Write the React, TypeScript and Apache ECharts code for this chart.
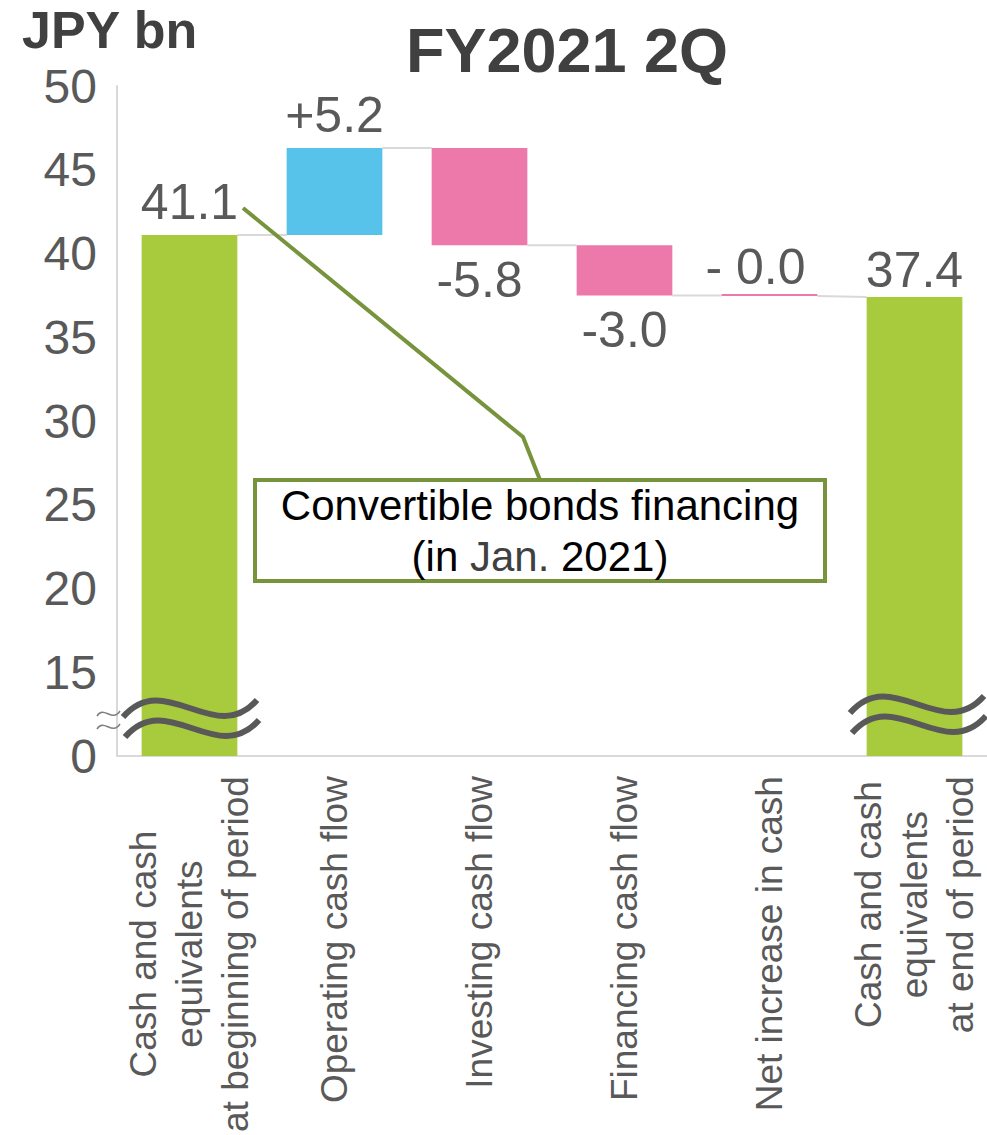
import React, { useEffect, useRef } from 'react';
import * as echarts from 'echarts';

const categories = [
  'Cash and cash\nequivalents\nat beginning of period',
  'Operating cash flow',
  'Investing cash flow',
  'Financing cash flow',
  'Net increase in cash',
  'Cash and cash\nequivalents\nat end of period',
];
const amounts = [41.1, 5.2, -5.8, -3.0, -0.04, 37.4];
const isTotal = [true, false, false, false, false, true];
const valueLabels = ['41.1', '+5.2', '-5.8', '-3.0', '- 0.0', '37.4'];
const labelBelow = [false, false, true, true, false, false];
const yMin = 10;
const yMax = 50;
const yStep = 5;
const yBreakLabel = '0';

const FONT = '"Liberation Sans", Arial, Helvetica, sans-serif';
const GREEN = '#a7cb3d';
const BLUE = '#58c3ea';
const PINK = '#ed79ab';
const OLIVE = '#77933c';
const GREY = '#595959';

function buildWaterfall() {
  const base: number[] = [];
  const height: number[] = [];
  const endLevel: number[] = [];
  const startLevel: number[] = [];
  let running = 0;
  amounts.forEach((a, i) => {
    if (isTotal[i]) {
      base.push(0);
      height.push(a);
      startLevel.push(a);
      endLevel.push(a);
      running = a;
    } else {
      const s = running;
      const e = running + a;
      base.push(Math.min(s, e));
      height.push(Math.abs(a));
      startLevel.push(s);
      endLevel.push(e);
      running = e;
    }
  });
  const connectors: number[][] = [];
  for (let i = 0; i < amounts.length - 1; i++) {
    connectors.push([i, endLevel[i], startLevel[i + 1]]);
  }
  return { base, height, connectors };
}

function wave(x0: number, y0: number) {
  return {
    type: 'bezierCurve',
    shape: {
      x1: x0, y1: y0,
      cpx1: x0 + 42, cpy1: y0 - 49,
      cpx2: x0 + 92, cpy2: y0 + 31,
      x2: x0 + 134, y2: y0 - 17,
    },
    style: { stroke: GREY, lineWidth: 6, fill: null },
    z: 100,
  };
}

function tilde(x0: number, y0: number) {
  return {
    type: 'bezierCurve',
    shape: {
      x1: x0, y1: y0,
      cpx1: x0 + 7, cpy1: y0 - 11,
      cpx2: x0 + 15, cpy2: y0 + 7,
      x2: x0 + 23, y2: y0 - 5,
    },
    style: { stroke: '#7f7f7f', lineWidth: 1.5, fill: null },
    z: 100,
  };
}

export default function App() {
  const ref = useRef<HTMLDivElement>(null);
  useEffect(() => {
    if (!ref.current) return;
    const chart = echarts.init(ref.current, undefined, { renderer: 'svg' });
    const { base, height, connectors } = buildWaterfall();

    const option: any = {
      animation: false,
      backgroundColor: '#ffffff',
      grid: { left: 117, width: 875, top: 86, bottom: 377, containLabel: false },
      xAxis: {
        type: 'category',
        data: categories,
        axisLine: { show: true, lineStyle: { color: '#d9d9d9', width: 2 } },
        axisTick: { show: false },
        axisLabel: {
          interval: 0,
          rotate: 90,
          margin: 20,
          formatter: (v: string) => v.split('\n').map((l) => `{c|${l}}`).join('\n'),
          rich: {
            c: { align: 'center', fontSize: 37, lineHeight: 46, color: GREY, fontFamily: FONT },
          },
        },
      },
      yAxis: {
        type: 'value',
        min: yMin,
        max: yMax,
        interval: yStep,
        axisLine: { show: true, lineStyle: { color: '#d9d9d9', width: 2 } },
        axisTick: { show: false },
        splitLine: { show: false },
        axisLabel: {
          fontSize: 48,
          color: GREY,
          fontFamily: FONT,
          margin: 20,
          formatter: (v: number) => (v === yMin ? yBreakLabel : String(v)),
        },
      },
      series: [
        {
          type: 'bar',
          stack: 'w',
          barWidth: '66%',
          silent: true,
          itemStyle: { color: 'rgba(0,0,0,0)' },
          data: base,
        },
        {
          type: 'bar',
          stack: 'w',
          barWidth: '66%',
          barMinHeight: 2,
          data: height.map((h, i) => ({
            value: h,
            itemStyle: { color: isTotal[i] ? GREEN : amounts[i] >= 0 ? BLUE : PINK },
            label: {
              position: labelBelow[i] ? 'bottom' : 'top',
              distance: labelBelow[i] ? 10 : i === 4 || i === 5 ? 2 : 8,
              offset: i === 4 ? [-14, 0] : [0, 0],
            },
          })),
          label: {
            show: true,
            formatter: (p: any) => valueLabels[p.dataIndex],
            fontSize: 50,
            color: GREY,
            fontFamily: FONT,
          },
        },
        {
          type: 'custom',
          silent: true,
          z: 1,
          encode: { x: 0, y: [1, 2] },
          data: connectors,
          renderItem: (params: any, api: any) => {
            const i = api.value(0);
            const a = api.value(1);
            const b = api.value(2);
            const w = api.size([1, 0])[0];
            const half = w * 0.33;
            const p1 = api.coord([i, a]);
            const p2 = api.coord([i + 1, b]);
            return {
              type: 'line',
              shape: { x1: p1[0] + half, y1: p1[1], x2: p2[0] - half, y2: p2[1] },
              style: { stroke: '#d9d9d9', lineWidth: 2 },
            };
          },
        },
      ],
      graphic: [
        {
          type: 'text',
          x: 22,
          y: 30,
          style: {
            text: 'JPY bn',
            font: `bold 52px ${FONT}`,
            fill: '#404040',
            textAlign: 'left',
            textVerticalAlign: 'middle',
          },
        },
        {
          type: 'text',
          x: 567,
          y: 50,
          style: {
            text: 'FY2021 2Q',
            font: `bold 63px ${FONT}`,
            fill: '#404040',
            textAlign: 'center',
            textVerticalAlign: 'middle',
          },
        },
        {
          type: 'polyline',
          shape: { points: [[243, 208], [523, 437], [540, 480]] },
          style: { stroke: OLIVE, lineWidth: 4, fill: null },
          z: 90,
        },
        {
          type: 'rect',
          shape: { x: 255, y: 480, width: 570, height: 101 },
          style: { stroke: OLIVE, lineWidth: 4, fill: '#ffffff' },
          z: 91,
        },
        {
          type: 'text',
          x: 540,
          y: 531,
          z: 92,
          style: {
            text: '{k|Convertible bonds financing}\n{k|(in }{g|Jan.}{k| 2021)}',
            textAlign: 'center',
            textVerticalAlign: 'middle',
            rich: {
              k: { fontSize: 42, lineHeight: 51, fill: '#000000', fontFamily: FONT },
              g: { fontSize: 42, lineHeight: 51, fill: '#404040', fontFamily: FONT },
            },
          },
        },
        wave(123, 717),
        wave(125, 737),
        wave(850, 713),
        wave(852, 733),
        tilde(97, 716),
        tilde(97, 729),
      ],
    };
    chart.setOption(option);
    return () => chart.dispose();
  }, []);
  return (
    <div
      ref={ref}
      style={{ position: 'absolute', left: 0, top: 0, width: 987, height: 1135 }}
    />
  );
}
